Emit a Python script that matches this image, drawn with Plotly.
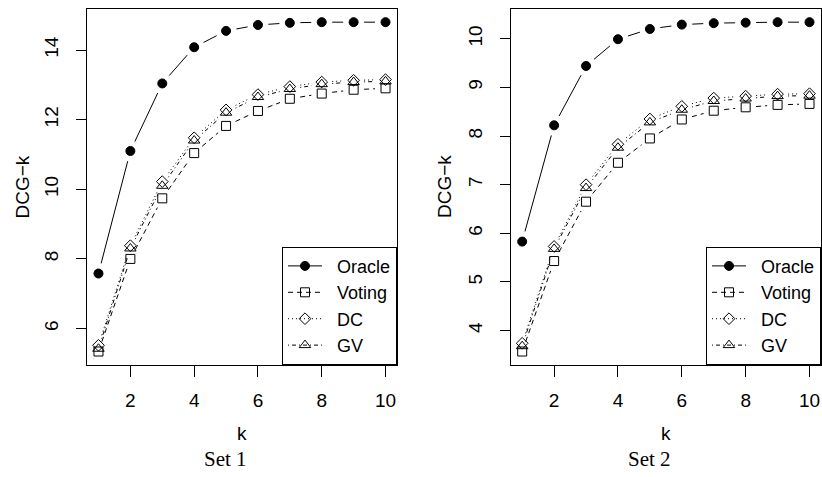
import plotly.graph_objects as go

# ---------------- data ----------------
k = [1, 2, 3, 4, 5, 6, 7, 8, 9, 10]

set1_oracle = [7.58, 11.10, 13.04, 14.08, 14.55, 14.72, 14.78, 14.80, 14.80, 14.80]
set1_voting = [5.34, 8.00, 9.74, 11.04, 11.82, 12.25, 12.60, 12.75, 12.86, 12.90]
set1_dc     = [5.52, 8.38, 10.22, 11.48, 12.28, 12.72, 12.95, 13.08, 13.13, 13.15]
set1_gv     = [5.42, 8.30, 10.10, 11.40, 12.20, 12.65, 12.88, 13.02, 13.08, 13.10]

set2_oracle = [5.83, 8.22, 9.44, 9.99, 10.20, 10.29, 10.32, 10.33, 10.34, 10.34]
set2_voting = [3.57, 5.43, 6.65, 7.45, 7.95, 8.34, 8.52, 8.59, 8.64, 8.66]
set2_dc     = [3.74, 5.73, 7.00, 7.83, 8.35, 8.61, 8.78, 8.82, 8.86, 8.87]
set2_gv     = [3.68, 5.68, 6.93, 7.76, 8.28, 8.54, 8.72, 8.77, 8.82, 8.83]

series_names = ["Oracle", "Voting", "DC", "GV"]
panel_titles = ["Set 1", "Set 2"]
y_title = "DCG\u2212k"
x_title = "k"
x_ticks = [2, 4, 6, 8, 10]
y_ticks_1 = [6, 8, 10, 12, 14]
y_ticks_2 = [4, 5, 6, 7, 8, 9, 10]

# ---------------- styling ----------------
W, H = 822, 477
FONT = "Liberation Sans, Arial, Helvetica, sans-serif"
FS = 19
styles = [
    dict(symbol="circle", dash="solid", size=9),
    dict(symbol="square-open", dash="5px,4px", size=9),
    dict(symbol="diamond-open", dash="1px,3px", size=9),
    dict(symbol="triangle-up-open", dash="1px,3px,4px,3px", size=10),
]
GAP = 10.5  # pixel gap between line ends and point (R type="b")
NB = "\u00a0\u00a0"

# panel geometry in pixels
x_dom_px = [(87, 397), (510.7, 821)]
y_dom_px = (9, 364.7)  # top, bottom


def r_range(vals):
    lo, hi = min(vals), max(vals)
    d = hi - lo
    return [lo - 0.04 * d, hi + 0.04 * d]


fig = go.Figure()

panels = [
    [set1_oracle, set1_voting, set1_dc, set1_gv],
    [set2_oracle, set2_voting, set2_dc, set2_gv],
]

for p, data in enumerate(panels):
    xr = r_range(k)
    yr = r_range([v for s in data for v in s])
    sx = (x_dom_px[p][1] - x_dom_px[p][0]) / (xr[1] - xr[0])
    sy = (y_dom_px[1] - y_dom_px[0]) / (yr[1] - yr[0])
    xa = "x" if p == 0 else "x2"
    ya = "y" if p == 0 else "y2"
    leg = "legend" if p == 0 else "legend2"
    for name, vals, st in zip(series_names, data, styles):
        # gapped line segments (like R type="b")
        gx, gy = [], []
        for i in range(len(k) - 1):
            x0, y0, x1, y1 = k[i], vals[i], k[i + 1], vals[i + 1]
            dxp, dyp = (x1 - x0) * sx, (y1 - y0) * sy
            L = (dxp ** 2 + dyp ** 2) ** 0.5
            if L <= 2 * GAP:
                continue
            f = GAP / L
            gx += [x0 + (x1 - x0) * f, x1 - (x1 - x0) * f, None]
            gy += [y0 + (y1 - y0) * f, y1 - (y1 - y0) * f, None]
        fig.add_trace(go.Scatter(
            x=gx, y=gy, mode="lines", xaxis=xa, yaxis=ya,
            line=dict(color="black", width=1, dash=st["dash"]),
            showlegend=False, hoverinfo="skip"))
        # points (isolated so no connecting line), legend shows line+marker
        px, py = [], []
        for xv, yv in zip(k, vals):
            px += [xv, None]
            py += [yv, None]
        fig.add_trace(go.Scatter(
            x=px, y=py, mode="lines+markers", name=NB + name, xaxis=xa, yaxis=ya,
            legend=leg, connectgaps=False,
            line=dict(color="black", width=1, dash=st["dash"]),
            marker=dict(symbol=st["symbol"], size=st["size"], color="black",
                        line=dict(color="black", width=1))))

    xd = [x_dom_px[p][0] / W, x_dom_px[p][1] / W]
    yd = [1 - y_dom_px[1] / H, 1 - y_dom_px[0] / H]
    axis_common = dict(showline=True, mirror=True, linecolor="black", linewidth=1,
                       showgrid=False, zeroline=False, ticks="outside",
                       tickcolor="black", tickwidth=1,
                       tickfont=dict(family=FONT, size=FS, color="black"))
    fig.update_layout(**{
        ("xaxis" if p == 0 else "xaxis2"): dict(
            domain=xd, range=xr, tickvals=x_ticks, ticklen=11,
            ticklabelstandoff=7, anchor=ya, **axis_common),
        ("yaxis" if p == 0 else "yaxis2"): dict(
            domain=yd, range=yr, tickvals=(y_ticks_1 if p == 0 else y_ticks_2),
            ticklen=10, tickangle=-90, ticklabelstandoff=10, anchor=xa,
            **axis_common),
        leg: dict(x=x_dom_px[p][1] / W, xanchor="right",
                  y=1 - y_dom_px[1] / H, yanchor="bottom",
                  bgcolor="white", bordercolor="black", borderwidth=1,
                  itemwidth=34, tracegroupgap=0,
                  font=dict(family=FONT, size=18, color="black")),
    })

    cx = (x_dom_px[p][0] + x_dom_px[p][1]) / 2
    fig.add_annotation(text=x_title, xref="paper", yref="paper",
                       x=cx / W, y=1 - 433 / H, showarrow=False,
                       xanchor="center", yanchor="middle",
                       font=dict(family=FONT, size=FS, color="black"))
    fig.add_annotation(text=y_title, xref="paper", yref="paper",
                       x=(21.5 if p == 0 else 444) / W, y=1 - 187 / H,
                       showarrow=False, textangle=-90,
                       xanchor="center", yanchor="middle",
                       font=dict(family=FONT, size=FS, color="black"))
    fig.add_annotation(text=panel_titles[p], xref="paper", yref="paper",
                       x=(225 if p == 0 else 649) / W, y=1 - 459 / H,
                       showarrow=False, xanchor="center", yanchor="middle",
                       font=dict(family="Liberation Serif, DejaVu Serif, serif",
                                 size=21, color="black"))

fig.update_layout(width=W, height=H, autosize=False,
                  margin=dict(l=0, r=0, t=0, b=0, pad=0),
                  paper_bgcolor="white", plot_bgcolor="white",
                  font=dict(family=FONT, color="black"))

fig.write_html("out.html",
               config={"displayModeBar": False},
               post_script="document.body.style.margin='0px';"
                           "document.body.style.padding='0px';")
